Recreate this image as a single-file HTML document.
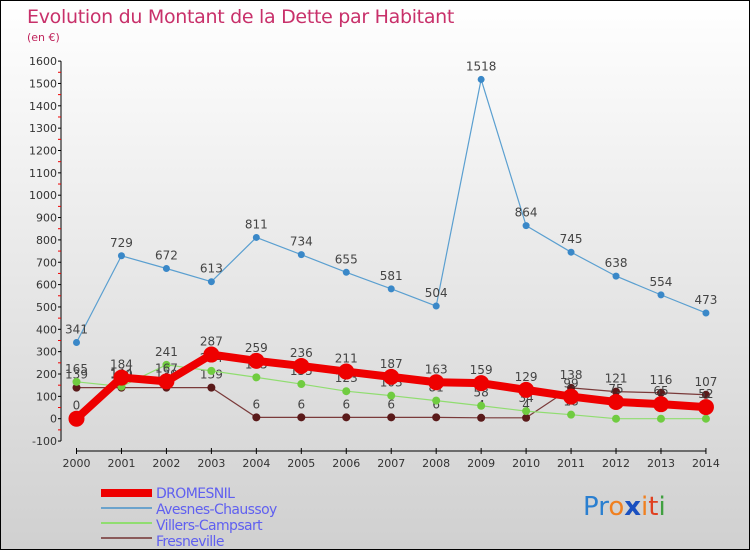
<!DOCTYPE html>
<html><head><meta charset="utf-8"><style>
body{margin:0;width:750px;height:550px;overflow:hidden;font-family:"DejaVu Sans","Liberation Sans",sans-serif}
#wrap{position:relative;width:748px;height:548px;border:1px solid #000;background:linear-gradient(#ffffff,#d0d0d0)}
</style></head><body>
<div id="wrap">
<svg id="svg" width="748" height="548" style="position:absolute;left:0;top:0">
<text x="26" y="22" font-size="19" fill="#c8306a" font-family="DejaVu Sans, sans-serif" letter-spacing="-0.3">Evolution du Montant de la Dette par Habitant</text>
<text x="26" y="40" font-size="11" fill="#c0245c">(en €)</text>
<g id="axes"></g><g id="series"></g>
<g font-size="14" fill="#6060f0" letter-spacing="-0.6">
<rect x="100" y="488" width="51" height="8" fill="#ee0000"/>
<text x="155" y="497">DROMESNIL</text>
<line x1="100" x2="151" y1="507" y2="507" stroke="#6ba3cc" stroke-width="2"/>
<text x="155" y="513">Avesnes-Chaussoy</text>
<line x1="100" x2="151" y1="522" y2="522" stroke="#90dd70" stroke-width="2"/>
<text x="155" y="529">Villers-Campsart</text>
<line x1="100" x2="151" y1="537" y2="537" stroke="#8a5a5a" stroke-width="2"/>
<text x="155" y="545">Fresneville</text>
</g>
<g font-size="26" font-family="DejaVu Sans, sans-serif">
<text x="582" y="514"><tspan fill="#2a7fd0">Pr</tspan><tspan fill="#f08020">o</tspan><tspan fill="#1a50c0" font-weight="bold">x</tspan><tspan fill="#f08020">i</tspan><tspan fill="#e04020">t</tspan><tspan fill="#40a040">i</tspan></text>
</g>
</svg>
</div>
<script>
const years=[2000,2001,2002,2003,2004,2005,2006,2007,2008,2009,2010,2011,2012,2013,2014];
const dromesnil=[0,184,167,287,259,236,211,187,163,159,129,99,75,65,52];
const avesnes=[341,729,672,613,811,734,655,581,504,1518,864,745,638,554,473];
const villers=[165,144,241,214,185,155,123,103,81,58,34,18,0,0,0];
const fresneville=[139,139,139,139,6,6,6,6,6,4,4,138,121,116,107];
const yTicks=[-100,0,100,200,300,400,500,600,700,800,900,1000,1100,1200,1300,1400,1500,1600];
const NS='http://www.w3.org/2000/svg';
const X=i=>75.5+i*44.96, Y=v=>417.7-v*0.2235;
function mk(t,a,p){const e=document.createElementNS(NS,t);for(const k in a)e.setAttribute(k,a[k]);p.appendChild(e);return e;}
const ax=document.getElementById('axes'),se=document.getElementById('series');
let l=mk('line',{x1:60,x2:60,y1:Y(1600),y2:Y(-100),stroke:'#000'},ax);

yTicks.forEach(v=>{mk('line',{x1:57,x2:60,y1:Y(v),y2:Y(v),stroke:'#000'},ax);
 if(v<1600)mk('line',{x1:57,x2:60,y1:Y(v+50),y2:Y(v+50),stroke:'#e00'},ax);
 const t=mk('text',{x:56,y:Y(v)+4,'font-size':11,'text-anchor':'end',fill:'#333'},ax);t.textContent=v;
 });
l=mk('line',{x1:X(0),x2:X(14),y1:450,y2:450,stroke:'#000'},ax);

years.forEach((y,i)=>{mk('line',{x1:X(i),x2:X(i),y1:447,y2:453,stroke:'#000'},ax);
 const t=mk('text',{x:X(i),y:466,'font-size':11,'text-anchor':'middle',fill:'#333'},ax);t.textContent=y;
 });
function series(name,d,col,w,r,dot){const g=mk('g',{},se);
 
 mk('polyline',{points:d.map((v,i)=>X(i)+','+Y(v)).join(' '),fill:'none',stroke:col,'stroke-width':w,'stroke-linejoin':'round'},g);
 d.forEach((v,i)=>{const c=mk('circle',{cx:X(i),cy:Y(v),r:r,fill:dot},g);
  
  const t=mk('text',{x:X(i),y:Y(v)-9,'font-size':12,'text-anchor':'middle',fill:'#444'},g);t.textContent=v;
  });}
series('avesnes',avesnes,'#5a9fd0',1.2,3.5,'#3a88c8');
series('fresneville',fresneville,'#7a3a3a',1.2,4,'#5a1a1a');
series('villers',villers,'#90dd70',1.2,4,'#70cc40');
series('dromesnil',dromesnil,'#ee0000',8,8,'#ee0000');
</script>
</body></html>
